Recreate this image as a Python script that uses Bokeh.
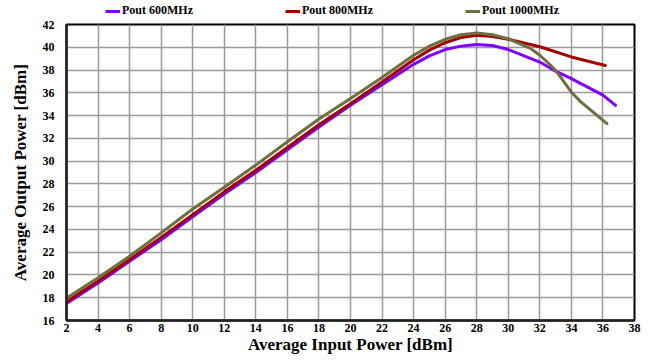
from bokeh.plotting import figure
from bokeh.layouts import column
from bokeh.models import FixedTicker, Legend, LegendItem, Range1d
from bokeh.embed import file_html
from bokeh.resources import INLINE

# Data
x_600 = [2, 4, 6, 8, 10, 12, 14, 16, 18, 20, 22, 24, 25, 26, 27, 28, 29, 30, 32, 33, 34, 36, 36.8]
y_600 = [17.5, 19.3, 21.2, 23.1, 25.1, 27.1, 29.0, 31.0, 33.0, 34.9, 36.7, 38.5, 39.25, 39.8, 40.1, 40.25, 40.15, 39.8, 38.7, 37.9, 37.25, 35.8, 34.9]

x_800 = [2, 4, 6, 8, 10, 12, 14, 16, 18, 20, 22, 24, 25, 26, 27, 28, 29, 30, 32, 34, 36.15]
y_800 = [17.65, 19.45, 21.35, 23.3, 25.3, 27.3, 29.2, 31.2, 33.2, 35.05, 36.95, 38.9, 39.75, 40.4, 40.85, 41.05, 40.95, 40.7, 40.05, 39.15, 38.4]

x_1000 = [2, 4, 6, 8, 10, 12, 14, 16, 18, 20, 22, 24, 25, 26, 27, 28, 29, 30, 31.4, 32, 32.7, 33.1, 34, 34.6, 36.25]
y_1000 = [17.95, 19.75, 21.65, 23.7, 25.8, 27.7, 29.65, 31.7, 33.7, 35.5, 37.35, 39.3, 40.1, 40.7, 41.1, 41.25, 41.1, 40.75, 39.9, 39.3, 38.4, 37.8, 36.05, 35.2, 33.3]

x_ticks = list(range(2, 39, 2))
y_ticks = list(range(16, 43, 2))

series_names = ["Pout 600MHz", "Pout 800MHz", "Pout 1000MHz"]
series_colors = ["#7F00FF", "#A00000", "#6E6E40"]
series_x = [x_600, x_800, x_1000]
series_y = [y_600, y_800, y_1000]

# ---- legend strip (top) ----
leg = figure(width=656, height=16, output_backend="svg", toolbar_location=None,
             x_range=Range1d(0, 1), y_range=Range1d(0, 1),
             x_axis_type=None, y_axis_type=None,
             min_border_left=0, min_border_right=0, min_border_top=0, min_border_bottom=0)
leg.outline_line_color = None
leg.xgrid.visible = False
leg.ygrid.visible = False
leg_renderers = []
for xs, ys, c in zip(series_x, series_y, series_colors):
    # same series, outside this strip's ranges: only the legend swatch shows
    leg_renderers.append(leg.line(xs, ys, line_color=c, line_width=3))

legend = Legend(items=[LegendItem(label=n, renderers=[r]) for n, r in zip(series_names, leg_renderers)],
                orientation="horizontal", location=(39, -2),
                glyph_width=15, glyph_height=10, label_height=10, label_width=163,
                label_standoff=2, spacing=0, padding=0, margin=0,
                label_text_font="Liberation Serif", label_text_font_style="bold",
                label_text_font_size="12px", label_text_color="black",
                background_fill_alpha=0, border_line_color=None)
leg.add_layout(legend, "center")

# ---- main chart ----
p = figure(width=656, height=346, output_backend="svg", toolbar_location=None,
           x_range=Range1d(2, 38), y_range=Range1d(16, 42),
           min_border_left=66, min_border_right=22, min_border_top=8, min_border_bottom=42)
p.background_fill_color = "white"
p.border_fill_color = "white"
p.outline_line_color = "black"
p.outline_line_width = 2

for xs, ys, c in zip(series_x, series_y, series_colors):
    p.line(xs, ys, line_color=c, line_width=3, line_join="round", line_cap="round")

for ax in (p.xaxis, p.yaxis):
    ax.major_tick_line_color = None
    ax.minor_tick_line_color = None
    ax.major_tick_in = 0
    ax.major_tick_out = 0
    ax.minor_tick_in = 0
    ax.minor_tick_out = 0
    ax.axis_line_color = "#222222"
    ax.axis_line_width = 2.5
    ax.major_label_text_font = "Liberation Serif"
    ax.major_label_text_font_style = "bold"
    ax.major_label_text_font_size = "12px"
    ax.major_label_text_color = "black"
    ax.axis_label_text_font = "Liberation Serif"
    ax.axis_label_text_font_style = "bold"
    ax.axis_label_text_font_size = "17px"
    ax.axis_label_text_color = "black"

p.xaxis.ticker = FixedTicker(ticks=x_ticks)
p.yaxis.ticker = FixedTicker(ticks=y_ticks)
p.xaxis.axis_label = "Average Input Power [dBm]"
p.yaxis.axis_label = "Average Output Power [dBm]"
p.xaxis.major_label_standoff = 3
p.xaxis.axis_label_standoff = 0
p.yaxis.major_label_standoff = 12
p.yaxis.axis_label_standoff = 10

p.xgrid.ticker = FixedTicker(ticks=x_ticks)
p.ygrid.ticker = FixedTicker(ticks=y_ticks)
for g in (p.xgrid, p.ygrid):
    g.grid_line_color = "#9A9A9A"
    g.grid_line_width = 1.5

layout = column(leg, p, spacing=0)
open("out.html", "w").write(file_html(layout, INLINE))
